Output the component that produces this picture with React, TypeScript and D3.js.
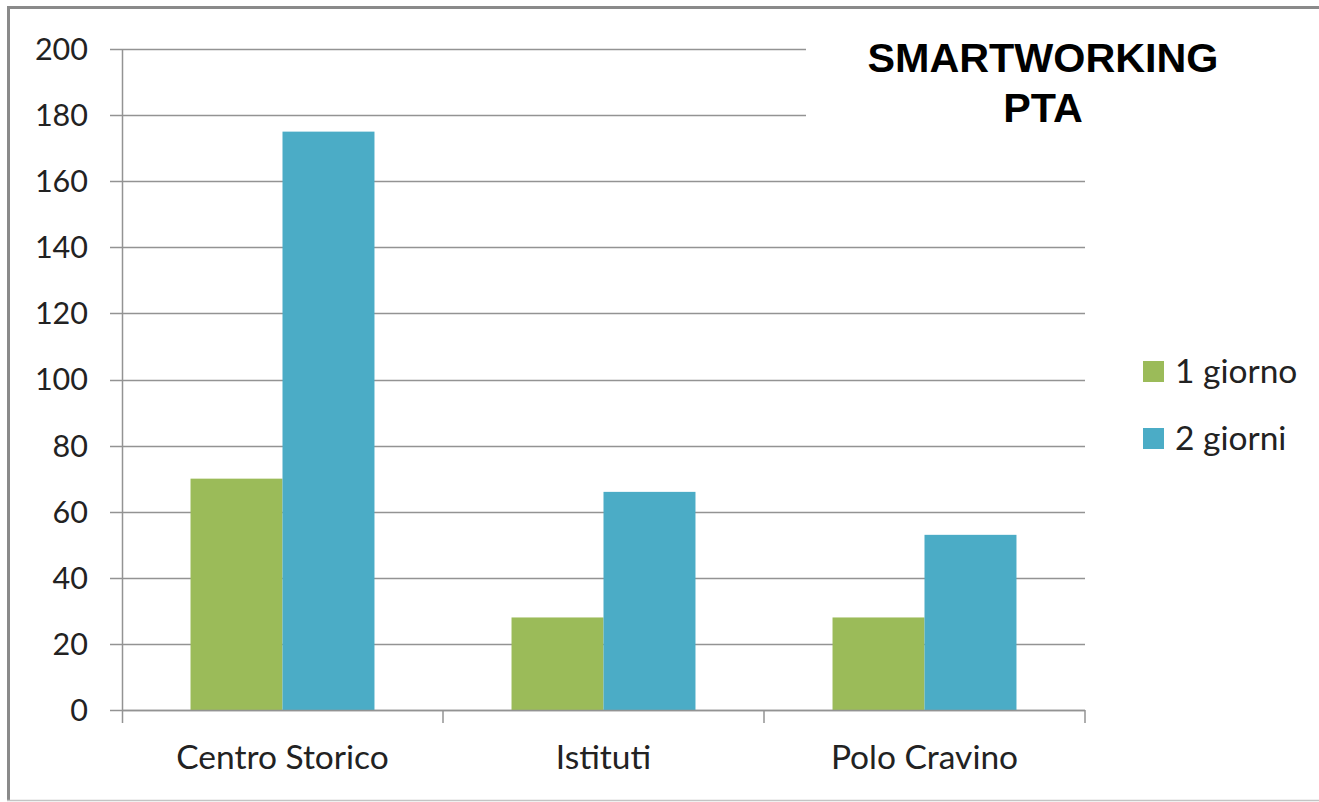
import React from "react";
import * as d3 from "d3";

const categories = ["Centro Storico", "Istituti", "Polo Cravino"];
const seriesNames = ["1 giorno", "2 giorni"];
const oneDay = [70, 28, 28];
const twoDays = [175, 66, 53];
const yTicks = [0, 20, 40, 60, 80, 100, 120, 140, 160, 180, 200];
const titleLines = ["SMARTWORKING", "PTA"];
const colors = ["#9BBB59", "#4BACC6"];

const W = 1319;
const H = 802;
const left = 122;
const right = 1085;
const top = 49;
const bottom = 710;
const font = "Lato, 'Open Sans', sans-serif";
const gridColor = "#939393";

export default function App() {
  const series = [oneDay, twoDays];
  const x = d3.scaleBand<string>().domain(categories).range([left, right]).padding(0);
  const inner = d3
    .scaleBand<string>()
    .domain(seriesNames)
    .range([0, x.bandwidth()])
    .paddingInner(0)
    .paddingOuter(0.745);
  const y = d3.scaleLinear().domain([0, 200]).range([bottom, top]);

  return (
    <svg
      width={W}
      height={H}
      style={{ position: "absolute", left: 0, top: 0, background: "#fff" }}
    >
      <rect x={0} y={0} width={W} height={H} fill="#fff" />
      {/* frame */}
      <line x1={8.5} y1={6} x2={8.5} y2={801} stroke="#8a8a8a" strokeWidth={3} />
      <line x1={7} y1={7.5} x2={W} y2={7.5} stroke="#8a8a8a" strokeWidth={3} />
      <line x1={7} y1={800.5} x2={W} y2={800.5} stroke="#c4c4c4" strokeWidth={1.5} />

      {/* gridlines */}
      {yTicks.map((t) => (
        <g key={t}>
          <line
            x1={110}
            x2={right}
            y1={Math.round(y(t)) + 0.5}
            y2={Math.round(y(t)) + 0.5}
            stroke={gridColor}
            strokeWidth={1.5}
          />
          <text
            x={88}
            y={y(t)}
            dy="0.36em"
            textAnchor="end"
            fontFamily={font}
            fontSize={30.5}
            fill="#222"
          >
            {t}
          </text>
        </g>
      ))}

      {/* bars */}
      {categories.map((c, i) => (
        <g key={c} transform={`translate(${x(c)},0)`}>
          {series.map((s, j) => (
            <rect
              key={j}
              x={inner(seriesNames[j])}
              y={y(s[i])}
              width={inner.bandwidth()}
              height={bottom - y(s[i])}
              fill={colors[j]}
            />
          ))}
        </g>
      ))}

      {/* axes */}
      <line x1={left + 0.5} x2={left + 0.5} y1={top} y2={723} stroke={gridColor} strokeWidth={1.5} />
      <line x1={left} x2={right} y1={bottom + 0.5} y2={bottom + 0.5} stroke={gridColor} strokeWidth={1.5} />
      {categories.map((c) => (
        <line
          key={"t" + c}
          x1={(x(c) as number) + x.bandwidth()}
          x2={(x(c) as number) + x.bandwidth()}
          y1={bottom}
          y2={723}
          stroke={gridColor}
          strokeWidth={1.5}
        />
      ))}
      {categories.map((c) => (
        <text
          key={"l" + c}
          x={(x(c) as number) + x.bandwidth() / 2}
          y={769}
          textAnchor="middle"
          fontFamily={font}
          fontSize={33.5}
          fill="#222"
        >
          {c}
        </text>
      ))}

      {/* title */}
      <rect x={806} y={20} width={470} height={110} fill="#fff" />
      {titleLines.map((l, i) => (
        <text
          key={l}
          x={1043}
          y={72 + i * 50}
          textAnchor="middle"
          fontFamily="'Liberation Sans', Arial, sans-serif"
          fontWeight="bold"
          fontSize={41.3}
          fill="#000"
        >
          {l}
        </text>
      ))}

      {/* legend */}
      {seriesNames.map((n, j) => (
        <g key={n} transform={`translate(1143, ${361 + j * 67})`}>
          <rect x={0} y={0} width={21} height={21} fill={colors[j]} />
          <text x={32} y={22} fontFamily={font} fontSize={33.5} fill="#222">
            {n}
          </text>
        </g>
      ))}
    </svg>
  );
}
